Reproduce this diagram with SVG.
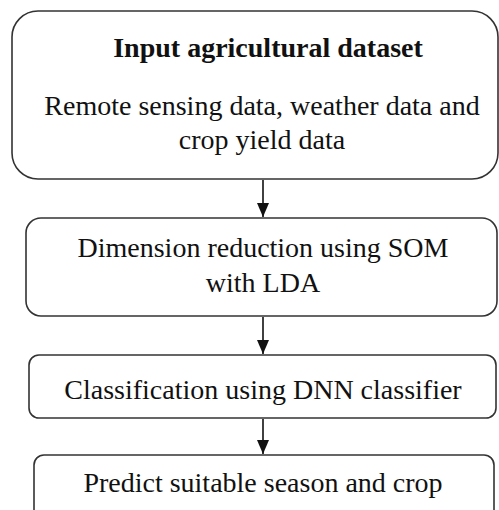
<svg xmlns="http://www.w3.org/2000/svg" width="499" height="510" viewBox="0 0 499 510">
<style>
.box{fill:#fff;stroke:#333;stroke-width:1.6}
text{font-family:"Times New Roman",Times,"Liberation Serif",serif;font-size:28px;fill:#111;text-anchor:middle;font-weight:normal;font-style:normal}
text.b{font-weight:bold}
.c{stroke:#111;stroke-width:1.6;fill:none}
</style>
<defs>
<marker id="ah" markerUnits="userSpaceOnUse" markerWidth="16" markerHeight="14" refX="15" refY="7" orient="auto" viewBox="0 0 16 14">
<path d="M1,1 L15,7 L1,13 Z" fill="#111"/>
</marker>
</defs>
<rect width="499" height="510" fill="#fff"/>
<g id="connectors">
<line class="c" x1="263" y1="180" x2="263" y2="217" marker-end="url(#ah)"/>
<line class="c" x1="263" y1="317" x2="263" y2="354" marker-end="url(#ah)"/>
<line class="c" x1="263" y1="419" x2="263" y2="454" marker-end="url(#ah)"/>
</g>
<g id="node-input">
<rect class="box" x="12" y="11" width="486" height="168" rx="26"/>
<text class="b" x="268" y="57">Input agricultural dataset</text>
<text x="262" y="115">Remote sensing data, weather data and</text>
<text x="262" y="149">crop yield data</text>
</g>
<g id="node-som">
<rect class="box" x="26" y="218" width="471" height="98" rx="15"/>
<text x="263" y="257">Dimension reduction using SOM</text>
<text x="263" y="292">with LDA</text>
</g>
<g id="node-dnn">
<rect class="box" x="29" y="355" width="467" height="63" rx="10"/>
<text x="263" y="399">Classification using DNN classifier</text>
</g>
<g id="node-predict">
<rect class="box" x="34" y="455" width="460" height="70" rx="10"/>
<text x="263" y="492">Predict suitable season and crop</text>
</g>
</svg>
